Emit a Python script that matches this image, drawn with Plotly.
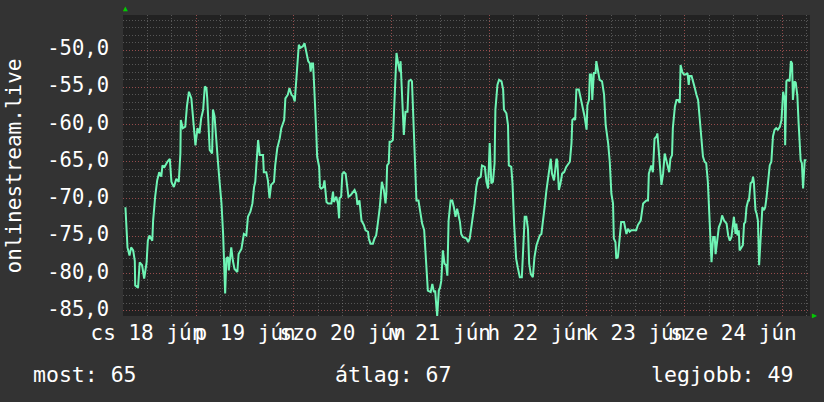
import plotly.graph_objects as go

# Time in hours since 2020-06-18 00:00, value in dB-like units
hours = [
    6.6, 6.8, 7.1, 7.6, 8.0, 8.5, 8.9, 9.0, 9.7, 10.1, 10.7, 11.2, 11.5, 11.8, 12.1, 12.5, 13.2, 13.4, 13.9, 14.4,
    14.9, 15.4, 15.7, 16.2, 16.9, 17.5, 17.9, 18.5, 19.1, 19.7, 20.1, 20.2, 20.7, 21.3, 21.7, 22.2, 22.8, 23.2, 23.6, 23.8,
    24.3, 24.8, 25.2, 25.7, 26.1, 26.5, 26.7, 27.0, 27.3, 27.9, 28.1, 28.5, 28.9, 29.3, 29.7, 30.2, 30.6, 30.8, 31.1, 31.4,
    31.8, 32.0, 32.6, 33.0, 33.4, 34.1, 34.4, 35.1, 35.7, 36.3, 36.7, 37.3, 37.8, 38.2, 38.5, 38.8, 39.2,
    39.6, 40.4, 40.6, 41.2, 41.6, 42.0, 42.4, 43.1, 43.4, 43.9, 44.5, 44.9, 45.6, 45.9, 46.5, 46.9, 47.4, 47.8, 48.2, 48.6,
    48.8, 49.2, 49.6, 50.2, 50.6, 51.0, 51.5, 51.9, 52.1, 52.4, 52.7, 52.9, 53.3, 53.5, 53.7, 54.2, 54.4, 54.7, 55.2, 55.5,
    56.0, 56.4, 57.2, 57.6, 57.8, 58.4, 58.8, 59.1, 59.2, 59.6, 59.9, 60.3, 60.7, 61.1, 61.4, 61.9, 62.5, 62.9, 63.3, 63.6,
    64.1, 64.6, 65.2, 65.6, 66.2, 66.4, 66.8, 67.4, 67.8, 68.2, 68.6, 69.1, 69.6, 70.1, 70.5, 70.7, 70.9, 71.3, 71.5, 71.9,
    72.3, 72.6, 72.9, 73.2, 73.6,
    74.0, 74.2, 74.5, 74.8, 75.0, 75.4, 75.9, 76.2, 76.7, 77.0, 77.3, 77.7, 78.1, 78.6, 79.1, 79.5, 80.0, 80.3, 80.5, 80.9,
    81.6, 82.0, 82.4, 82.7, 83.0, 83.2, 83.6, 83.9, 84.2, 84.6, 85.0, 85.4, 85.7, 86.0, 86.5, 86.9, 87.3, 87.7, 88.1, 88.5,
    88.8, 89.1, 89.5, 90.4, 90.8, 91.2, 91.6, 92.0, 92.4, 92.8, 93.2, 93.9, 94.2, 94.9, 95.3, 95.7, 96.1, 96.5, 96.9, 97.3,
    97.5, 98.0, 98.4, 99.0, 99.4, 99.6, 100.2, 100.6, 100.8, 101.4, 101.7, 102.1, 102.4, 102.6, 103.0, 103.5, 104.0, 104.3,
    104.7, 105.1, 105.5, 105.8, 106.2, 106.7, 107.1, 107.6, 108.0,
    108.4, 108.8, 109.2, 109.6, 110.0, 110.4, 110.8, 111.1, 111.4, 111.9, 112.2, 112.5, 112.7, 113.1, 113.5, 113.9, 114.4,
    114.9, 115.8, 116.2, 116.4, 116.8, 117.1, 117.4, 118.0, 118.5, 118.9, 119.4, 119.9, 120.1, 120.5, 120.7, 121.1, 121.3,
    121.7, 122.1, 122.3, 122.7, 123.1, 123.7, 124.2, 124.6, 125.2, 125.6, 126.0, 126.4, 126.6, 127.0, 127.2, 127.6, 128.0,
    128.4, 129.1, 129.4, 129.7, 130.1, 130.5, 130.9, 131.6, 132.1, 132.5, 133.2, 133.8, 134.6, 135.0, 135.2, 135.8, 136.2,
    136.6, 137.1, 137.3, 137.6, 138.0, 138.3, 138.7, 139.1, 139.5, 139.9, 140.2, 140.5, 140.9, 141.1, 141.6, 142.0, 142.4,
    142.8, 143.0, 143.4, 143.8, 144.2, 144.7, 145.0, 145.2, 145.7, 146.1, 146.5, 146.9, 147.3, 147.7, 148.1, 148.5, 148.9,
    149.3, 149.7, 150.0, 150.2, 150.4, 150.6, 151.0, 151.4, 151.6, 152.0, 152.4, 152.9, 153.2, 153.7, 154.3, 154.7, 155.1,
    155.5, 155.9, 156.1, 156.5, 156.7, 157.0, 157.3, 157.5, 157.9, 158.3, 158.6, 158.9, 159.2, 159.6, 159.8, 160.2, 160.6,
    160.8, 161.0, 161.4, 161.7, 162.0, 162.3, 162.6, 162.9, 163.1, 163.5, 163.8, 164.1, 164.5, 164.9, 165.3, 165.7, 166.1,
    166.5, 166.9, 167.4, 167.8, 168.2, 168.6, 168.7, 169.0, 169.4, 169.8, 170.1, 170.4, 170.6, 171.0, 171.3, 171.5, 171.7,
    172.0, 172.5, 172.8, 173.1, 173.5, 173.9,
]

values = [
    -71.1, -73.5, -76.5, -77.6, -76.5, -76.9, -78.3, -81.6, -81.9, -78.5, -78.9, -80.7, -79.6, -78.5, -75.6, -74.9, -75.6, -72.9, -69.7, -67.5,
    -66.4, -67.0, -65.5, -65.7, -65.0, -64.6, -67.7, -68.4, -67.3, -67.7, -63.9, -59.4, -60.5, -60.3, -57.6, -55.6, -56.5, -58.9, -60.7, -62.8,
    -60.5, -61.2, -59.2, -58.0, -54.9, -55.1, -56.5, -59.8, -63.4, -63.9, -58.0, -58.9, -62.5, -64.8, -67.5, -70.6, -74.7, -77.8, -82.7, -78.0,
    -77.8, -79.6, -76.5, -78.3, -79.4, -79.8, -77.4, -76.7, -74.7, -74.9, -72.4, -71.7, -70.6, -68.4, -67.7, -65.2, -62.1,
    -64.1, -64.1, -66.4, -66.4, -67.5, -69.9, -68.1, -67.7, -65.5, -63.2, -61.9, -60.5, -59.4, -56.5, -56.0, -55.1, -56.0, -56.2, -56.9, -54.2,
    -52.7, -49.3, -49.7, -49.5, -49.1, -50.0, -51.5, -51.8, -52.9, -51.8, -51.8, -54.0, -58.0, -61.2, -64.3, -65.7, -68.4, -68.6, -68.4, -67.5,
    -70.4, -70.6, -70.6, -69.0, -70.4, -69.7, -70.6, -72.6, -69.9, -69.7, -66.6, -66.4, -66.6, -68.1, -69.7, -69.5, -69.0, -68.8, -69.3, -70.8,
    -70.2, -72.9, -73.5, -74.2, -74.4, -75.3, -76.0, -76.0, -75.3, -74.9, -73.3, -71.1, -67.7, -68.8, -70.6, -69.3, -65.5, -65.2, -62.3, -62.3,
    -62.1, -57.6, -54.4, -50.4, -51.8,
    -52.9, -51.5, -55.3, -58.3, -61.4, -58.3, -58.3, -54.2, -54.0, -54.2, -58.3, -65.0, -70.2, -70.2, -71.7, -73.3, -74.2, -76.9, -79.6, -82.3,
    -82.5, -81.4, -82.5, -82.3, -84.5, -85.7, -82.3, -81.9, -81.0, -76.9, -78.7, -78.9, -80.3, -72.9, -70.2, -70.2, -71.1, -72.4, -71.3, -72.4,
    -73.1, -74.7, -75.1, -75.3, -75.8, -75.3, -73.8, -72.6, -70.6, -68.4, -67.3, -67.0, -65.5, -65.7, -67.7, -68.6, -62.5, -67.9, -67.7, -65.2,
    -58.0, -54.7, -54.0, -54.2, -55.3, -58.0, -58.5, -60.1, -65.5, -65.7, -67.9, -73.3, -76.0, -78.0, -79.2, -80.5, -80.5, -77.4,
    -72.4, -72.4, -74.0, -78.7, -80.1, -80.5, -77.8, -76.2, -75.6,
    -74.9, -74.7, -73.1, -71.1, -69.0, -67.5, -66.1, -64.6, -66.6, -67.5, -66.1, -64.6, -64.8, -68.8, -67.9, -66.6, -66.4,
    -65.7, -65.0, -62.5, -59.4, -59.2, -59.4, -55.3, -55.3, -56.5, -57.6, -58.9, -60.7, -57.4, -56.7, -53.3, -53.3, -56.7,
    -53.1, -53.1, -51.5, -53.1, -54.0, -54.2, -56.0, -60.1, -62.5, -65.0, -69.3, -70.6, -75.3, -75.8, -78.0, -77.8, -75.1,
    -73.1, -73.1, -73.8, -74.7, -74.0, -74.4, -74.2, -74.2, -74.2, -73.5, -72.9, -70.6, -70.2, -70.2, -66.6, -65.5, -66.4,
    -61.9, -61.6, -61.2, -63.0, -66.1, -68.1, -66.6, -63.9, -64.8, -65.9, -66.4, -64.6, -64.1, -60.5, -57.6, -56.7, -56.7,
    -57.1, -52.0, -52.9, -53.3, -53.3, -53.1, -54.7, -53.5, -53.5, -54.2, -55.1, -56.0, -56.7, -59.2, -61.6, -64.3, -65.0,
    -65.2, -67.7, -71.5, -74.2, -74.4, -78.5, -75.1, -75.1, -77.4, -75.6, -73.8, -73.1, -72.2, -72.9, -73.3, -74.9, -75.6,
    -75.1, -73.3, -72.4, -74.7, -73.3, -74.9, -74.2, -76.9, -76.5, -76.2, -73.3, -73.1, -71.1, -70.2, -70.2, -67.9, -67.7,
    -67.0, -67.7, -71.5, -72.0, -72.9, -78.9, -76.0, -74.2, -71.1, -71.5, -71.1, -69.9, -67.9, -65.5, -65.0, -61.6, -60.7,
    -60.5, -60.7, -60.3, -59.4, -55.6, -56.7, -62.8, -54.2, -54.0, -54.2, -51.5, -51.8, -56.7, -54.2, -54.4, -55.3, -56.2,
    -59.8, -64.8, -65.2, -68.6, -64.8, -64.8,
]

day_label_hours = [12, 36, 60, 84, 108, 132, 156]
day_labels = ["cs 18 jún", "p 19 jún", "szo 20 jún", "v 21 jún", "h 22 jún", "k 23 jún", "sze 24 jún"]
midnight_hours = [24, 48, 72, 96, 120, 144, 168]
y_tick_vals = [-85, -80, -75, -70, -65, -60, -55, -50]
y_tick_text = ["-85,0", "-80,0", "-75,0", "-70,0", "-65,0", "-60,0", "-55,0", "-50,0"]
y_title = "onlinestream.live"
legend_items = ["most: 65", "átlag: 67", "legjobb: 49"]

FONT = "DejaVu Sans Mono"
X_RANGE = [6.0, 174.8]
Y_RANGE = [-85.71, -45.3]
MINOR_GRID = "rgba(150,150,150,0.45)"
MAJOR_GRID = "rgba(200,70,70,0.55)"

fig = go.Figure()
fig.add_trace(go.Scatter(x=hours, y=values, mode="lines",
                         line=dict(color="#6ff5b5", width=2), hoverinfo="skip",
                         showlegend=False))
fig.add_trace(go.Scatter(x=[], y=[], xaxis="x2", showlegend=False))

fig.update_layout(
    width=824, height=402,
    margin=dict(l=123, r=14, t=15, b=86, autoexpand=False),
    paper_bgcolor="#333333", plot_bgcolor="#222222",
    font=dict(family=FONT, color="#ffffff", size=20.5),
    showlegend=False,
    xaxis=dict(range=X_RANGE, tickmode="array", tickvals=midnight_hours,
               showticklabels=False, ticks="", showgrid=True, automargin=False,
               gridcolor=MAJOR_GRID, griddash="1px,2px", gridwidth=1,
               zeroline=False, showline=False,
               minor=dict(dtick=6, tick0=0, showgrid=True, gridcolor=MINOR_GRID,
                          griddash="1px,2px", gridwidth=1, ticks="")),
    xaxis2=dict(range=X_RANGE, overlaying="x", side="bottom", tickmode="array",
                tickvals=day_label_hours, ticktext=day_labels, showgrid=False,
                zeroline=False, ticks="", ticklabelstandoff=2, tickangle=0,
                automargin=False,
                tickfont=dict(family=FONT, size=21, color="#ffffff")),
    yaxis=dict(range=Y_RANGE, tickmode="array", tickvals=y_tick_vals, ticktext=y_tick_text,
               ticks="", showgrid=True, gridcolor=MAJOR_GRID, griddash="1px,2px",
               gridwidth=1, zeroline=False, showline=False, ticklabelstandoff=13,
               ticklabelshift=-2, automargin=False,
               tickfont=dict(family=FONT, size=20.5, color="#ffffff"),
               minor=dict(dtick=1, tick0=0, showgrid=True, gridcolor=MINOR_GRID,
                          griddash="1px,2px", gridwidth=1, ticks="")),
)

annotations = [
    dict(text=y_title, textangle=-90, xref="paper", yref="paper", x=-0.1587, y=0.5,
         xanchor="center", yanchor="middle", showarrow=False,
         font=dict(family=FONT, size=21, color="#ffffff")),
    dict(text="▲", xref="paper", yref="paper", x=0.003, y=1.0, xanchor="center",
         yanchor="bottom", showarrow=False, font=dict(size=8, color="#00cc00")),
    dict(text="▶", xref="paper", yref="paper", x=1.0, y=0.003, xanchor="left",
         yanchor="middle", showarrow=False, font=dict(size=8, color="#00cc00")),
]
legend_x = [-0.1339, 0.3057, 0.7656]
for txt, lx in zip(legend_items, legend_x):
    annotations.append(dict(text=txt, xref="paper", yref="paper", x=lx, y=-0.1927,
                            xanchor="left", yanchor="middle", showarrow=False,
                            font=dict(family=FONT, size=21.5, color="#ffffff")))
fig.update_layout(annotations=annotations)

fig.write_html("out.html")
